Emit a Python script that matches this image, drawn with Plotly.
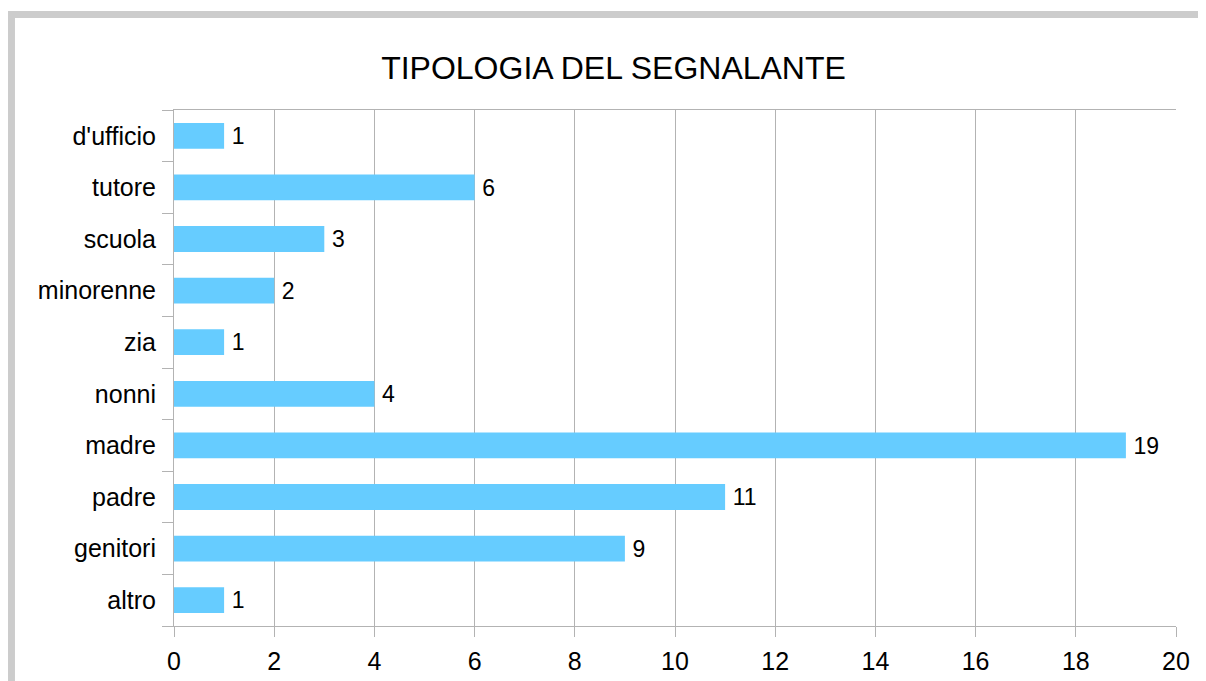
import plotly.graph_objects as go

categories = ["altro", "genitori", "padre", "madre", "nonni", "zia",
              "minorenne", "scuola", "tutore", "d'ufficio"]
counts = [1, 9, 11, 19, 4, 1, 2, 3, 6, 1]
x_ticks = [0, 2, 4, 6, 8, 10, 12, 14, 16, 18, 20]

fig = go.Figure(go.Bar(
    x=counts,
    y=categories,
    orientation="h",
    marker=dict(color="#66ccff", line=dict(width=0)),
    width=0.5,
    text=counts,
    texttemplate="\u2009%{x}",
    textposition="outside",
    textfont=dict(size=25, color="#000000"),
    cliponaxis=False,
))

grid = "#b3b3b3"
# page body adds an 8px offset, margins compensate for it
fig.update_layout(
    width=1206,
    height=681,
    margin=dict(l=166, r=38, t=102, b=63),
    paper_bgcolor="white",
    plot_bgcolor="white",
    font=dict(family="Liberation Sans, Arial, sans-serif", size=25, color="#000000"),
    title=dict(text="TIPOLOGIA DEL SEGNALANTE", x=605.5 / 1206, xanchor="center",
               y=1 - 60 / 681, yanchor="middle", font=dict(size=32)),
    showlegend=False,
    xaxis=dict(range=[0, 20], tickvals=x_ticks, showgrid=True, gridcolor=grid,
               gridwidth=1, showline=True, linecolor=grid, linewidth=1, mirror=True,
               ticks="outside", ticklen=10, tickcolor=grid, zeroline=False,
               ticklabelstandoff=3),
    yaxis=dict(type="category", categoryorder="array", categoryarray=categories,
               tickson="boundaries", ticks="outside", ticklen=11, tickcolor=grid,
               showgrid=False, showline=True, linecolor=grid, linewidth=1,
               ticklabelstandoff=12),
    shapes=[dict(type="path", xref="paper", yref="paper",
                 path="M -0.1622,-0.2 L -0.1622,1.1851 L 1.1,1.1851",
                 line=dict(color="#cccccc", width=7))],
)

fig.write_html("out.html")
